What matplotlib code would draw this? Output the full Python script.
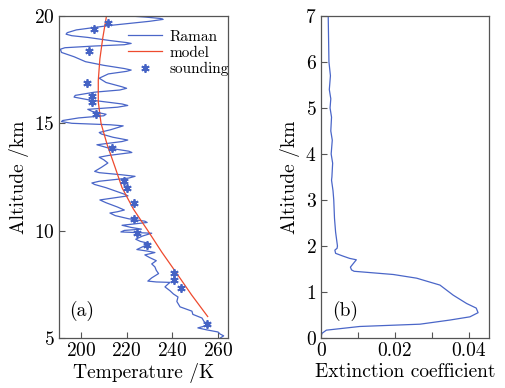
import matplotlib
matplotlib.use('Agg')
import matplotlib.pyplot as plt
import numpy as np

plt.rcParams['font.family'] = ['cmr10', 'DejaVu Serif']
plt.rcParams['axes.formatter.use_mathtext'] = True

# (a) Raman temperature profile
raman_alt = [20.0, 19.95, 19.88, 19.84, 19.75, 19.55, 19.35, 19.22, 19.15, 19.08, 19.0, 18.85,
             18.76, 18.72, 18.66, 18.6, 18.52, 18.45, 18.3, 18.1, 17.87, 17.7, 17.55, 17.48,
             17.42, 17.3, 17.1, 16.9, 16.7, 16.63, 16.55, 16.45, 16.3, 16.22, 16.1, 15.9,
             15.83, 15.75, 15.65, 15.55, 15.5, 15.42, 15.35, 15.25, 15.13, 15.08, 15.0, 14.93,
             14.88, 14.7, 14.57, 14.5, 14.35, 14.22, 14.15, 14.0, 13.85, 13.7, 13.64, 13.5,
             13.42, 13.3, 13.15, 12.95, 12.76, 12.7, 12.6, 12.53, 12.45, 12.3, 12.22, 12.15,
             12.0, 11.7, 11.62, 11.5, 11.43, 11.3, 11.1, 10.96, 10.88, 10.82, 10.7, 10.55,
             10.44, 10.38, 10.3, 10.25, 10.15, 10.07, 10.01, 9.94, 9.88, 9.75, 9.6, 9.5,
             9.4, 9.25, 9.12, 9.05, 8.98, 8.87, 8.75, 8.6, 8.45, 8.31, 8.15, 8.0, 7.8, 7.65,
             7.61, 7.59, 7.5, 7.38, 7.2, 7.05, 6.91, 6.7, 6.45, 6.35, 6.25, 6.1, 5.93, 5.75,
             5.62, 5.55, 5.47, 5.38, 5.28, 5.18, 5.1, 5.0]
raman_T = [221, 228, 235, 236, 230, 212, 198, 194, 193.5, 196, 203, 213,
           220, 222, 219, 206, 193, 191, 191.5, 197, 202, 210, 219, 222,
           220, 212, 208, 211, 218, 220, 217, 206, 197.5, 197, 203, 218,
           220.5, 216, 203, 205, 207.5, 211, 210, 199, 192, 191.5, 196, 213,
           218.5, 213, 208, 209, 214, 220.5, 218, 207, 212, 221, 222.3, 212,
           208, 210, 211.8, 209, 206, 208, 218, 223.7, 221, 208, 204.8, 206,
           211, 219, 220.6, 213, 208.3, 211, 216, 219, 216, 212.7, 215, 221,
           228, 229, 222, 218, 222, 226.5, 219, 217.5, 231, 227, 224, 226,
           230, 227, 224.5, 229, 232.4, 228, 230, 233, 231, 232.4, 233, 234, 231, 229.3,
           233, 239, 238, 236.8, 239, 240.5, 242.5, 242, 243.4, 246, 248.6, 249, 253, 254,
           256.5, 254, 251.2, 255, 260, 261, 262.5, 261]

model_alt = [6.0, 7.0, 8.0, 9.0, 10.0, 11.0, 12.0, 13.0, 14.0, 15.0, 16.0, 17.0, 18.0, 19.0, 20.0]
model_T = [255.5, 248.5, 242.0, 235.4, 229.3, 223.0, 218.0, 214.8, 211.5, 208.8, 207.6, 207.6,
           208.3, 209.6, 211.2]

sound_alt = [19.66, 19.38, 18.39, 16.9, 16.29, 15.98, 15.44, 13.84, 12.31, 11.97, 11.3,
             10.53, 9.88, 9.33, 8.02, 7.7, 7.32, 5.65]
sound_T = [212, 205.8, 203.6, 202.8, 205, 205, 206.4, 213.4, 219, 220.3, 223.2,
           223.2, 224.4, 228.8, 240.7, 240.7, 243.7, 255]

# (b) extinction coefficient profile
ext_alt = [7.0, 6.5, 6.0, 5.7, 5.4, 5.2, 5.0, 4.8, 4.5, 4.3, 4.0, 3.8, 3.5, 3.43, 3.2, 3.0,
           2.6, 2.3, 2.0, 1.95, 1.91, 1.84, 1.78, 1.73, 1.70, 1.64, 1.59, 1.54, 1.48, 1.45,
           1.38, 1.30, 1.15, 0.93, 0.75, 0.65, 0.55, 0.46, 0.39, 0.30, 0.25, 0.17, 0.1, 0.0]
ext_val = [0.0020, 0.0021, 0.0022, 0.0026, 0.0023, 0.0027, 0.0025, 0.0029, 0.0027, 0.0031, 0.0028,
           0.0032, 0.0030, 0.0029, 0.0033, 0.0035, 0.0037, 0.0040, 0.0045, 0.0044, 0.0038, 0.0040,
           0.0060, 0.0078, 0.0096, 0.0090, 0.0085, 0.0080, 0.0083, 0.0090, 0.0196, 0.0259, 0.0322,
           0.0358, 0.0394, 0.0420, 0.0425, 0.0403, 0.0349, 0.0268, 0.0105, 0.0015, 0.0003, 0.0]

blue = '#4a66c8'
red = '#ee4a2e'
spine = '#555555'

fig = plt.figure(figsize=(5.06, 3.88), dpi=100)
ax1 = fig.add_axes([0.1166, 0.1289, 0.334, 0.830])
ax2 = fig.add_axes([0.634, 0.1289, 0.332, 0.830])

ax1.plot(raman_T, raman_alt, color=blue, lw=0.9, label='Raman')
ax1.plot(model_T, model_alt, color=red, lw=0.9, label='model')
ax1.plot(sound_T, sound_alt, ls='none', marker=(6, 2, 0), ms=6, mew=1.3,
         color='#4563c4', label='sounding')
ax1.set_xlim(190.4, 264.4)
ax1.set_ylim(5, 20)
ax1.set_xticks([200, 220, 240, 260])
ax1.set_yticks([5, 10, 15, 20])
ax1.set_xlabel('Temperature /K', fontsize=14, labelpad=2)
ax1.set_ylabel('Altitude /km', fontsize=14, labelpad=4)
ax1.text(0.06, 0.07, '(a)', transform=ax1.transAxes, fontsize=14)
ax1.legend(loc='upper right', bbox_to_anchor=(1.06, 0.985), frameon=False, fontsize=11,
           handlelength=2.2, handletextpad=0.5, labelspacing=0.15, borderaxespad=0.2)

ax2.plot(ext_val, ext_alt, color=blue, lw=0.9)
ax2.set_xlim(0, 0.0454)
ax2.set_ylim(0, 7)
ax2.set_xticks([0, 0.01, 0.02, 0.03, 0.04])
ax2.set_xticklabels(['0', '', '0.02', '', '0.04'])
ax2.set_yticks(range(8))
ax2.set_xlabel('Extinction coefficient', fontsize=14, labelpad=2)
ax2.set_ylabel('Altitude /km', fontsize=14, labelpad=4)
ax2.text(0.07, 0.07, '(b)', transform=ax2.transAxes, fontsize=14)

for ax in (ax1, ax2):
    ax.tick_params(direction='in', labelsize=14, length=4, color=spine, pad=3)
    for s in ax.spines.values():
        s.set_color(spine)
        s.set_linewidth(0.9)

fig.savefig('out.png', dpi=100)
